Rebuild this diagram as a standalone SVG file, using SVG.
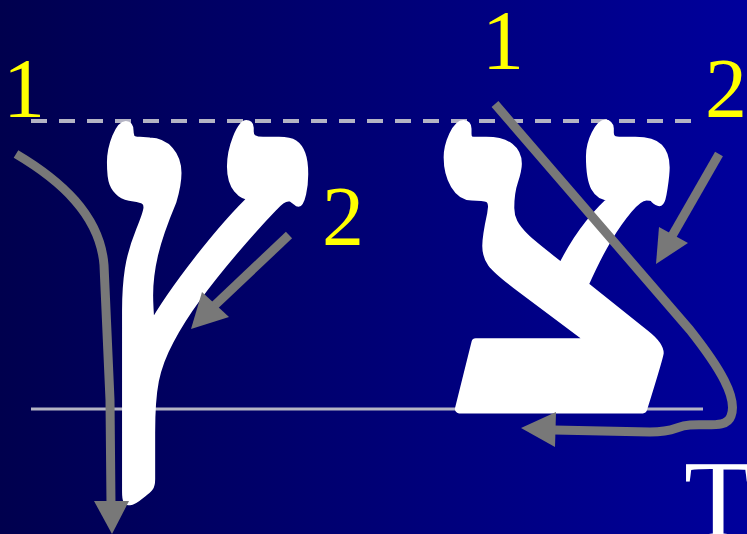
<svg xmlns="http://www.w3.org/2000/svg" width="747" height="534" viewBox="0 0 747 534">
<defs>
<linearGradient id="bg" x1="0" y1="0" x2="1" y2="0">
<stop offset="0" stop-color="#00004e"/>
<stop offset="1" stop-color="#00009c"/>
</linearGradient>
</defs>
<style>
.guide{stroke:#b4b4c4;fill:none}
.dash{stroke-width:4;stroke-dasharray:16 12}
.base{stroke-width:3}
.letter{fill:#ffffff;stroke:#ffffff;stroke-width:8;stroke-linejoin:round;font-family:"Liberation Serif","DejaVu Serif",serif;font-weight:bold;text-anchor:middle;font-size:440px}
.num{fill:#ffff00;font-family:"Liberation Serif",serif;font-size:84px}
.stroke{stroke:#787878;stroke-width:9;fill:none;stroke-linejoin:round}
.head{fill:#787878}
.t{fill:#ffffff;font-family:"Liberation Serif",serif;font-size:112px}
</style>
<rect width="747" height="534" fill="url(#bg)"/>
<g id="guides">
<line class="guide dash" x1="31" y1="121" x2="692" y2="121"/>
<line class="guide base" x1="31" y1="409" x2="703" y2="409"/>
</g>
<g id="final-tsadi"><text class="letter" transform="translate(198,409) scale(0.95,1.1)" x="0" y="0">ץ</text></g>
<g id="tsadi"><text class="letter" transform="translate(560,409) scale(1.07,1.1)" x="0" y="0">צ</text></g>
<g id="connectors">
<path class="stroke" d="M16,154 C60,180 100,215 104,265 L110,400 L111,505"/>
<polygon class="head" points="94,501 129,501 112,534"/>
<line class="stroke" x1="289" y1="235" x2="214" y2="306"/>
<polygon class="head" points="202,292 229,317 191,329"/>
<path class="stroke" d="M495,104 L690,330 C720,368 738,398 731,416 C727,428 710,424 690,425 C675,426 676,432 650,432 L554,430"/>
<polygon class="head" points="556,412 555,447 521,428"/>
<line class="stroke" x1="719" y1="154" x2="672" y2="236"/>
<polygon class="head" points="659,227 688,243 656,264"/>
</g>
<g id="labels">
<text class="num" x="3" y="117">1</text>
<text class="num" x="322" y="245">2</text>
<text class="num" x="482" y="69">1</text>
<text class="num" x="705" y="117">2</text>
<text class="t" x="684" y="538">T</text>
</g>
</svg>
